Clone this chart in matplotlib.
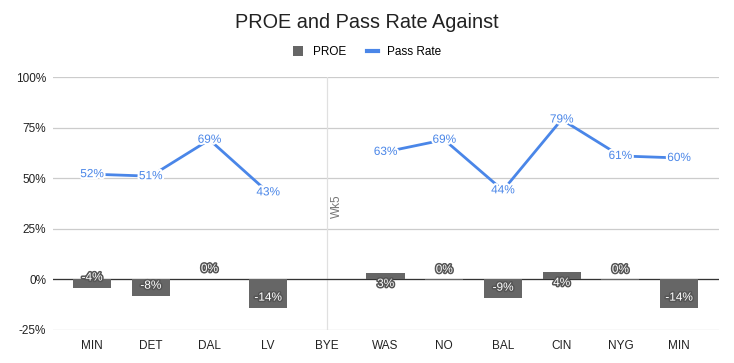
import numpy as np
import matplotlib.pyplot as plt
import matplotlib.patheffects as pe
from matplotlib.patches import Patch
from matplotlib.lines import Line2D

plt.rcParams['font.family'] = ['Liberation Sans', 'DejaVu Sans']

# data
teams = ["MIN", "DET", "DAL", "LV", "BYE", "WAS", "NO", "BAL", "CIN", "NYG", "MIN"]
proe = [-4.3, -8.3, 0.0, -14.2, np.nan, 3.0, -0.4, -9.3, 3.5, -0.4, -14.2]
proe_labels = ["-4%", "-8%", "0%", "-14%", "", "3%", "0%", "-9%", "4%", "0%", "-14%"]
pass_rate = [52, 51, 69, 43, np.nan, 63, 69, 44, 79, 61, 60]
bye_label = "Wk5"

bar_col = "#666666"
line_col = "#4a86e8"

x = np.arange(len(teams))

fig = plt.figure(figsize=(7.34, 3.63), dpi=100)
ax = fig.add_axes([53 / 734, 1 - 330 / 363, 666 / 734, 253 / 363])

ax.set_ylim(-25, 100)
ax.set_xlim(-0.665, len(teams) - 1 + 0.68)
ax.set_yticks([-25, 0, 25, 50, 75, 100])
ax.set_yticklabels(["-25%", "0%", "25%", "50%", "75%", "100%"])
ax.set_xticks(x)
ax.set_xticklabels(teams)
for s in ax.spines.values():
    s.set_visible(False)
ax.tick_params(length=0, labelsize=8.5, colors="#222222")
ax.tick_params(axis="y", pad=5)
ax.tick_params(axis="x", pad=7)
ax.grid(axis="y", color="#cccccc", linewidth=0.9)
ax.set_axisbelow(True)
ax.axhline(0, color="#333333", linewidth=0.9, zorder=2)

# bye week marker
ax.axvline(4, color="#e0e0e0", linewidth=0.9, zorder=1)
ax.text(4.17, 36, bye_label, rotation=90, ha="center", va="center",
        fontsize=8.5, color="#777777")

ax.bar(x, np.nan_to_num(proe), width=0.65, color=bar_col, zorder=3)

# PROE labels sit just inside the bar end (above the axis for ~0 values)
outline = [pe.withStroke(linewidth=2.2, foreground="#555555")]
for xi, v, lab in zip(x, proe, proe_labels):
    if not lab:
        continue
    ypos = v - 5.2 if v > 0 else v + 5.2
    ax.text(xi, ypos, lab, ha="center", va="center", fontsize=8.5,
            color="white", path_effects=outline, zorder=5)

ax.plot(x, pass_rate, color=line_col, linewidth=2, zorder=4)
halo = [pe.withStroke(linewidth=3, foreground="white")]
for xi, v in zip(x, pass_rate):
    if np.isnan(v):
        continue
    ax.text(xi, v, f"{v:.0f}%", ha="center", va="center", fontsize=8.5,
            color=line_col, path_effects=halo, zorder=6)

fig.text(0.5, 1 - 23 / 363, "PROE and Pass Rate Against", ha="center",
         va="center", fontsize=14.3, color="#222222")

handles = [Patch(facecolor=bar_col, edgecolor="none"),
           Line2D([0], [0], color=line_col, linewidth=3)]
fig.legend(handles, ["PROE", "Pass Rate"], loc="center",
           bbox_to_anchor=(0.5, 1 - 52 / 363), ncol=2, frameon=False,
           fontsize=8.5, handlelength=0.9, handleheight=0.9,
           handletextpad=0.8, columnspacing=1.8)

fig.savefig("out.png", dpi=100)
